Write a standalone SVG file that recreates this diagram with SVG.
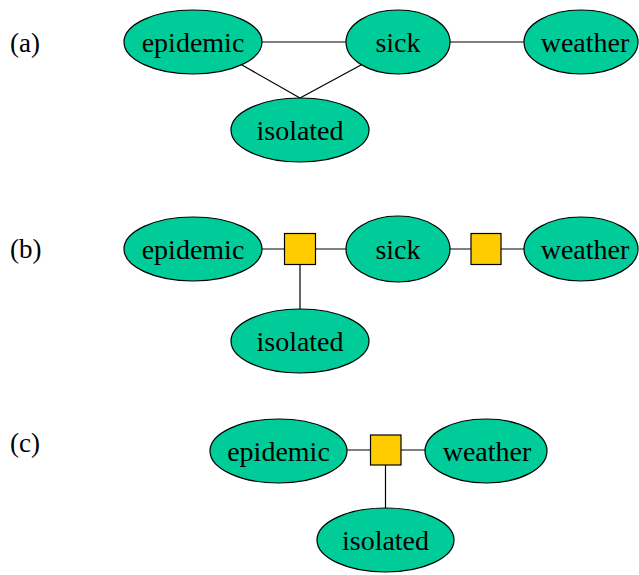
<svg xmlns="http://www.w3.org/2000/svg" width="639" height="575" viewBox="0 0 639 575">
<style>
.n{fill:#00CC99;stroke:#000;stroke-width:1.2}
.f{fill:#FFCC00;stroke:#000;stroke-width:1.2}
.t{font-family:"Liberation Serif","Times New Roman",serif;font-size:28px;fill:#000;text-anchor:middle}
.l{font-family:"Liberation Serif","Times New Roman",serif;font-size:27px;fill:#000}
#edges line{stroke:#000;stroke-width:1.2}
</style>
<rect width="639" height="575" fill="#fff"/>
<text class="l" x="10" y="52">(a)</text>
<text class="l" x="10" y="258">(b)</text>
<text class="l" x="10" y="452">(c)</text>
<g id="edges">
<line x1="262" y1="42" x2="346" y2="42"/>
<line x1="450" y1="42" x2="524" y2="42"/>
<line x1="242" y1="65" x2="300" y2="98"/>
<line x1="361" y1="65" x2="300" y2="98"/>
<line x1="262" y1="249" x2="346" y2="249"/>
<line x1="450" y1="249" x2="524" y2="249"/>
<line x1="300" y1="264" x2="300" y2="309"/>
<line x1="347" y1="450" x2="425" y2="450"/>
<line x1="385.5" y1="465" x2="385.5" y2="508"/>
</g>
<g id="a-epidemic"><ellipse class="n" cx="193" cy="42" rx="69" ry="32"/><text class="t" x="193" y="52">epidemic</text></g>
<g id="a-sick"><ellipse class="n" cx="398" cy="42" rx="52" ry="32"/><text class="t" x="398" y="52">sick</text></g>
<g id="a-weather"><ellipse class="n" cx="581" cy="42" rx="57" ry="32"/><text class="t" x="585" y="52">weather</text></g>
<g id="a-isolated"><ellipse class="n" cx="300" cy="130" rx="69" ry="32"/><text class="t" x="300" y="140">isolated</text></g>
<g id="b-epidemic"><ellipse class="n" cx="193" cy="249" rx="69" ry="32"/><text class="t" x="193" y="259">epidemic</text></g>
<g id="b-f1"><rect class="f" x="284.5" y="233.5" width="31" height="31"/></g>
<g id="b-sick"><ellipse class="n" cx="398" cy="249" rx="52" ry="33"/><text class="t" x="398" y="259">sick</text></g>
<g id="b-f2"><rect class="f" x="471" y="233.5" width="30" height="31"/></g>
<g id="b-weather"><ellipse class="n" cx="581" cy="249" rx="57" ry="32"/><text class="t" x="585" y="259">weather</text></g>
<g id="b-isolated"><ellipse class="n" cx="300" cy="341" rx="69" ry="32"/><text class="t" x="300" y="351">isolated</text></g>
<g id="c-epidemic"><ellipse class="n" cx="278.5" cy="451" rx="68.5" ry="32"/><text class="t" x="278.5" y="461">epidemic</text></g>
<g id="c-f"><rect class="f" x="370.5" y="435" width="30.5" height="30"/></g>
<g id="c-weather"><ellipse class="n" cx="486" cy="451" rx="61" ry="32"/><text class="t" x="487" y="461">weather</text></g>
<g id="c-isolated"><ellipse class="n" cx="385.5" cy="540" rx="68.5" ry="32"/><text class="t" x="385.5" y="550">isolated</text></g>
</svg>
